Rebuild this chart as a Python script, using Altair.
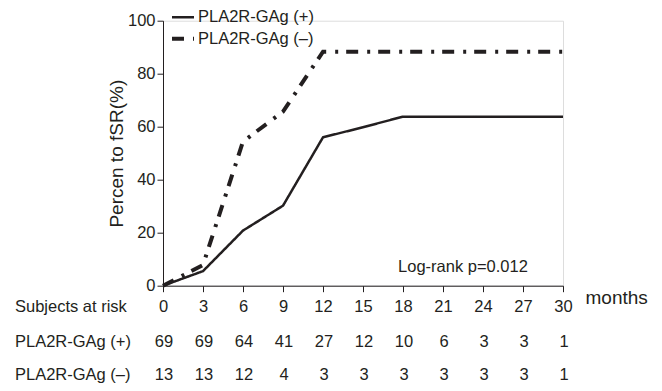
import altair as alt
import pandas as pd

FONT = "Liberation Sans"
INK = "#231f20"

months = [0, 3, 6, 9, 12, 15, 18, 21, 24, 27, 30]
pos_label = "PLA2R-GAg (+)"
neg_label = "PLA2R-GAg (–)"
pos_pct = [0, 5.5, 20.8, 30.2, 56, 59.8, 63.8, 63.8, 63.8, 63.8, 63.8]
neg_pct = [0, 7.8, 54.4, 65.7, 88.3, 88.3, 88.3, 88.3, 88.3, 88.3, 88.3]
pos_risk = [69, 69, 64, 41, 27, 12, 10, 6, 3, 3, 1]
neg_risk = [13, 13, 12, 4, 3, 3, 3, 3, 3, 3, 1]
row_titles = ["Subjects at risk", pos_label, neg_label]
annotation = "Log-rank p=0.012"

curve = pd.DataFrame({
    "month": months * 2,
    "pct": pos_pct + neg_pct,
    "group": [pos_label] * len(months) + [neg_label] * len(months),
})
risk_pos = pd.DataFrame({"month": months, "n": pos_risk})
risk_neg = pd.DataFrame({"month": months, "n": neg_risk})
note = pd.DataFrame({"month": [22.5], "pct": [7.0], "text": [annotation]})

ROW_Y = [286.3, 320.8, 354.3]

xscale = alt.Scale(domain=[0, 30], nice=False, zero=False)
yscale = alt.Scale(domain=[0, 100], nice=False)

xaxis = alt.Axis(values=months, tickSize=6, labelPadding=7, labelFontSize=16.5,
                 labelOverlap=False, labelFlush=False,
                 labelFont=FONT, labelColor=INK, domainColor=INK, tickColor=INK,
                 grid=False, title="months", titleFont=FONT, titleFontSize=19,
                 titleFontWeight="normal", titleColor=INK, titleX=422, titleY=12,
                 titleAlign="left", titleBaseline="middle", titleAngle=0)
yaxis = alt.Axis(values=[0, 20, 40, 60, 80, 100], tickSize=6, labelPadding=2,
                 labelOverlap=False,
                 labelFontSize=16.5, labelFont=FONT, labelColor=INK,
                 domainColor=INK, tickColor=INK, grid=False,
                 title="Percen to fSR(%)", titleFont=FONT, titleFontSize=19,
                 titleFontWeight="normal", titleColor=INK, titleX=-47,
                 titleY=132.5, titleBaseline="middle", titleAngle=-90)

legend = alt.Legend(title=None, orient="none", legendX=7, legendY=-16,
                    symbolType="stroke", symbolSize=484, symbolStrokeColor=INK,
                    labelFont=FONT, labelFontSize=16.5, labelColor=INK, labelOffset=2,
                    rowPadding=-1, padding=0)

lines = alt.Chart(curve).mark_line(color=INK, strokeCap="butt", strokeJoin="miter").encode(
    x=alt.X("month:Q", scale=xscale, axis=xaxis),
    y=alt.Y("pct:Q", scale=yscale, axis=yaxis),
    strokeDash=alt.StrokeDash("group:N",
                              scale=alt.Scale(domain=[pos_label, neg_label],
                                              range=[[1, 0], [12, 9, 3, 8]]),
                              legend=legend),
    strokeWidth=alt.StrokeWidth("group:N",
                                scale=alt.Scale(domain=[pos_label, neg_label], range=[2.5, 4]),
                                legend=legend),
)

note_layer = alt.Chart(note).mark_text(font=FONT, fontSize=16.5, color=INK, align="center",
                                       baseline="middle").encode(
    x=alt.X("month:Q", scale=xscale, axis=xaxis),
    y=alt.Y("pct:Q", scale=yscale, axis=yaxis), text="text:N")

def risk_row(df, ypix):
    return alt.Chart(df).mark_text(font=FONT, fontSize=16.5, color=INK, align="center",
                                   baseline="middle", dx=1).encode(
        x=alt.X("month:Q", scale=xscale, axis=xaxis), y=alt.value(ypix), text="n:Q")

def row_label(text, ypix):
    return alt.Chart(pd.DataFrame({"label": [text]})).mark_text(
        font=FONT, fontSize=16.5, color=INK, align="left", baseline="middle").encode(
        x=alt.value(-148), y=alt.value(ypix), text="label:N")

layers = [lines, note_layer, risk_row(risk_pos, ROW_Y[1]), risk_row(risk_neg, ROW_Y[2])]
layers += [row_label(t, y) for t, y in zip(row_titles, ROW_Y)]

chart = alt.layer(*layers).properties(
    width=400, height=265,
    autosize=alt.AutoSizeParams(type="none"),
    padding={"left": 163, "top": 20.7, "right": 99, "bottom": 105.3},
).configure_view(stroke=None).configure(background="white")

chart.save("out.html", embed_options={"renderer": "svg", "actions": False})
